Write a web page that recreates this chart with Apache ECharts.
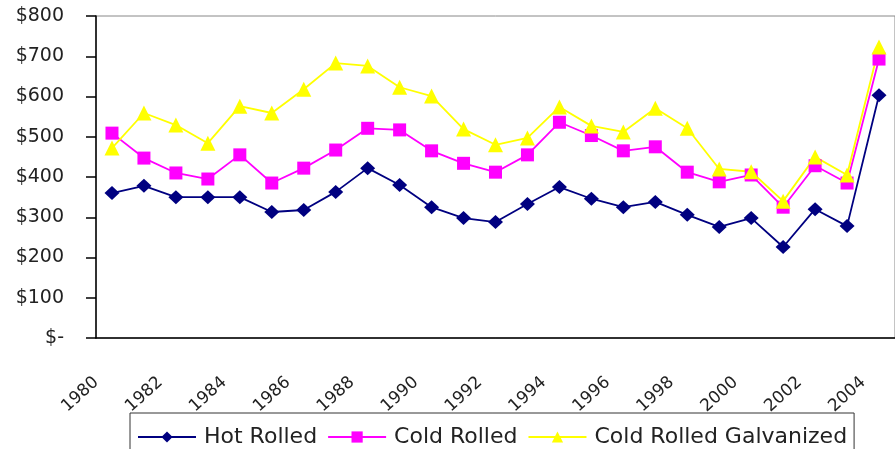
<!DOCTYPE html>
<html>
<head>
<meta charset="utf-8">
<script src="https://cdn.jsdelivr.net/npm/echarts@6/dist/echarts.min.js"></script>
<style>
html,body{margin:0;padding:0;background:#fff;}
#chart{width:895px;height:449px;}
</style>
</head>
<body>
<div id="chart"></div>
<script>
const years = ['1980','1981','1982','1983','1984','1985','1986','1987','1988','1989','1990','1991','1992','1993','1994','1995','1996','1997','1998','1999','2000','2001','2002','2003','2004'];
const hotRolled = [360, 378, 350, 350, 350, 313, 318, 363, 422, 380, 325, 298, 288, 333, 375, 346, 325, 338, 306, 276, 298, 226, 320, 278, 603];
const coldRolled = [509, 447, 410, 395, 455, 385, 422, 467, 521, 517, 465, 434, 412, 455, 536, 503, 465, 475, 412, 388, 405, 325, 428, 385, 693];
const coldRolledGalv = [472, 559, 529, 484, 576, 559, 618, 683, 676, 623, 601, 519, 480, 497, 574, 527, 512, 571, 521, 420, 413, 340, 450, 405, 723];
const seriesNames = ['Hot Rolled', 'Cold Rolled', 'Cold Rolled Galvanized'];

const font = 'DejaVu Sans';
const chart = echarts.init(document.getElementById('chart'), null, {renderer: 'canvas'});
chart.setOption({
  animation: false,
  backgroundColor: '#fff',
  grid: {left: 96, top: 16, width: 810, height: 322, show: true, borderColor: '#888', borderWidth: 1, backgroundColor: '#fff'},
  legend: {
    left: 130, top: 413, orient: 'horizontal',
    itemWidth: 58, itemHeight: 14, itemGap: 10,
    padding: [13, 7, 14, 7],
    borderColor: '#333', borderWidth: 1,
    textStyle: {fontFamily: font, fontSize: 22, color: '#222', padding: [0, 0, 0, 3]},
    data: seriesNames
  },
  xAxis: {
    type: 'category', data: years, boundaryGap: true,
    axisLine: {lineStyle: {color: '#000', width: 1.5}},
    axisTick: {interval: 0, length: 7, lineStyle: {color: '#000', width: 1.5}},
    axisLabel: {interval: 1, rotate: 42, margin: 28, padding: [0, 21, 0, 0], fontFamily: font, fontSize: 17, color: '#222'},
    splitLine: {show: false}
  },
  yAxis: {
    type: 'value', min: 0, max: 800, interval: 100,
    axisLine: {show: true, lineStyle: {color: '#000', width: 1.5}},
    axisTick: {show: true, length: 10, lineStyle: {color: '#000', width: 1.5}},
    axisLabel: {margin: 32, fontFamily: font, fontSize: 19, color: '#222',
      formatter: v => v === 0 ? '$-' : '$' + v},
    splitLine: {show: false}
  },
  series: [
    {name: seriesNames[0], type: 'line', data: hotRolled, symbol: 'diamond', symbolSize: [15, 14],
      itemStyle: {color: '#000080'}, lineStyle: {color: '#000080', width: 1.8}},
    {name: seriesNames[1], type: 'line', data: coldRolled, symbol: 'rect', symbolSize: 13,
      itemStyle: {color: '#FF00FF'}, lineStyle: {color: '#FF00FF', width: 1.8}},
    {name: seriesNames[2], type: 'line', data: coldRolledGalv, symbol: 'triangle', symbolSize: 15,
      itemStyle: {color: '#FFFF00'}, lineStyle: {color: '#FFFF00', width: 1.8}}
  ]
});
</script>
</body>
</html>
